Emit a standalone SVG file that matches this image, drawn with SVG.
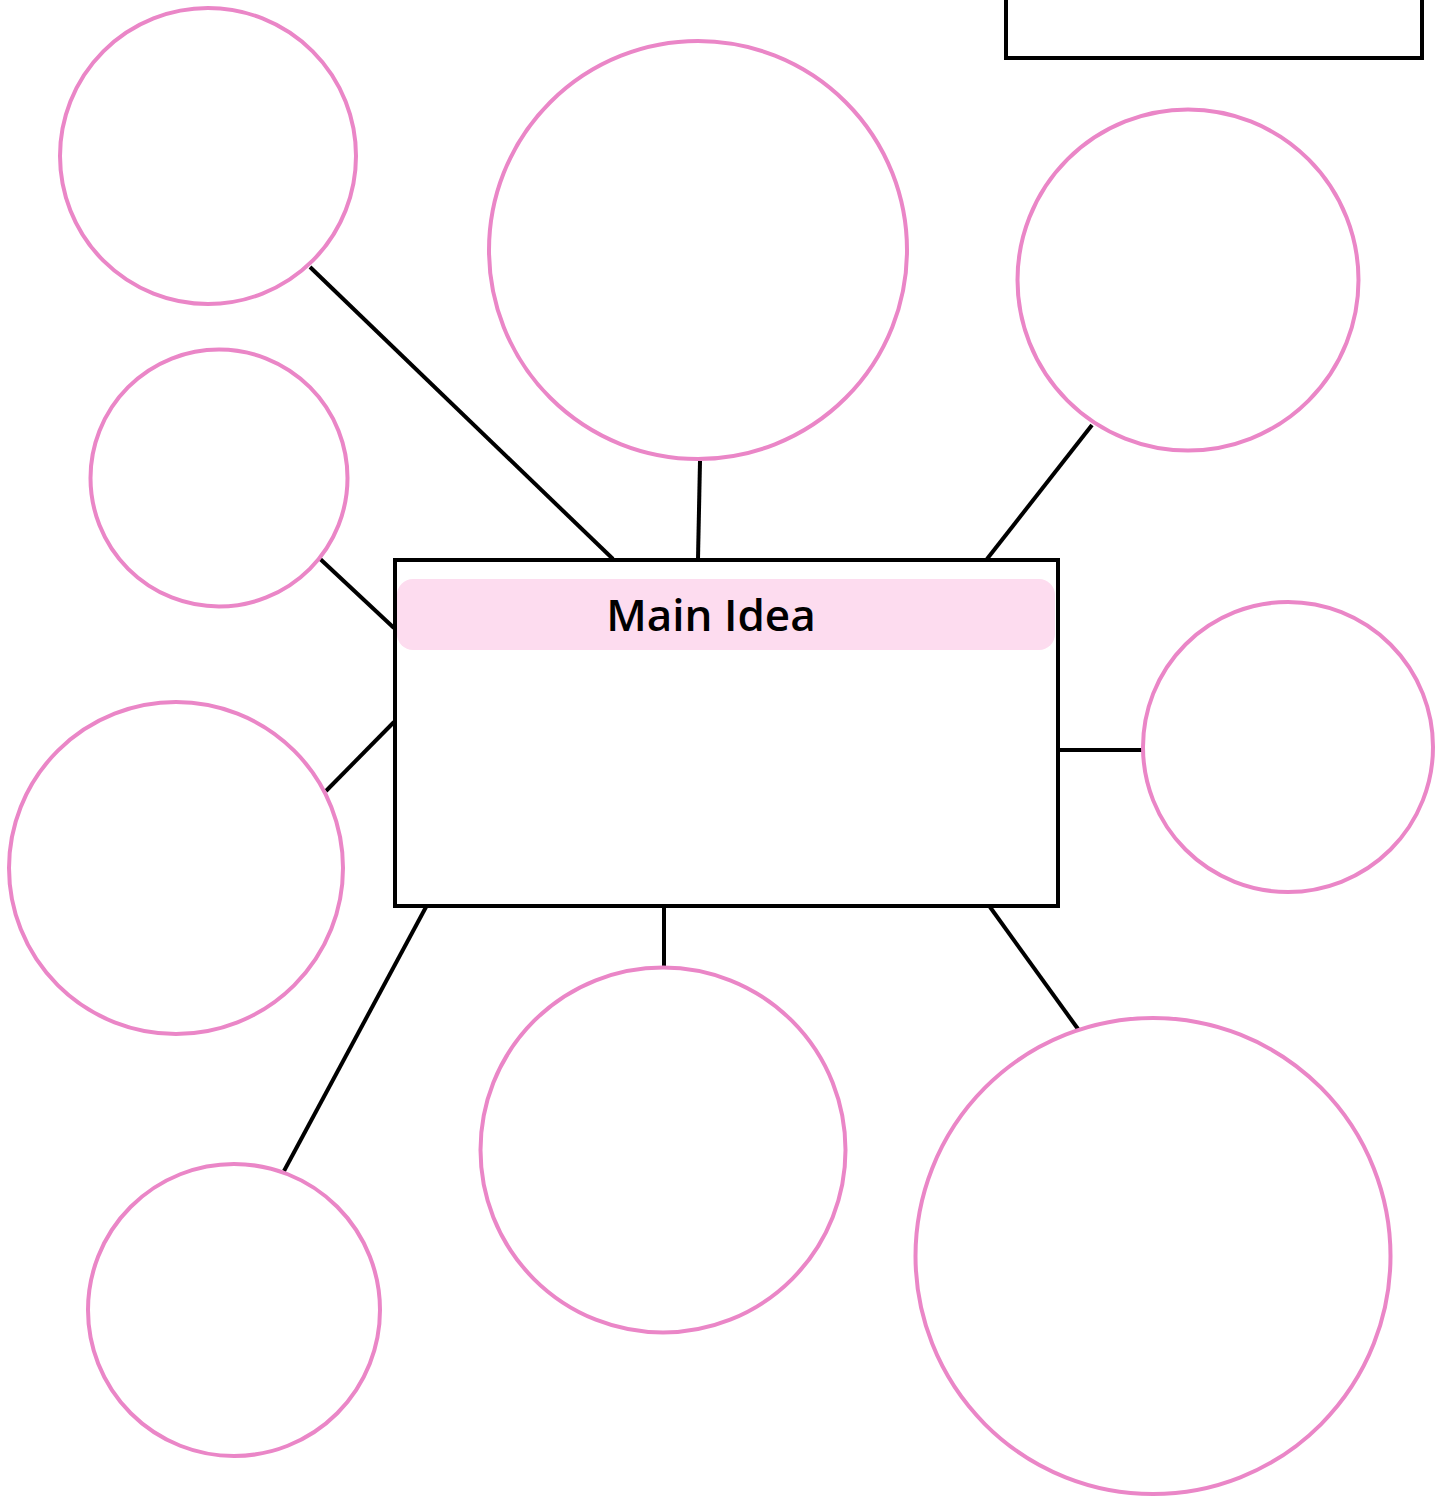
<svg xmlns="http://www.w3.org/2000/svg" width="1449" height="1496" viewBox="0 0 1449 1496">
<style>
.bubble{fill:#ffffff;stroke:#ea86c7;stroke-width:4}
.box{fill:#ffffff;stroke:#000000;stroke-width:4}
.link{stroke:#000000;stroke-width:4;fill:none}
.title{font-family:"Comic Sans MS","Open Sans",sans-serif;font-size:44px;font-weight:600;fill:#000000}
</style>
<rect width="1449" height="1496" fill="#ffffff"/>
<g id="connectors">
<line class="link" x1="310" y1="267" x2="613" y2="559"/>
<line class="link" x1="700" y1="461" x2="698" y2="559"/>
<line class="link" x1="1092" y1="425" x2="987" y2="559"/>
<line class="link" x1="317" y1="556" x2="394" y2="628"/>
<line class="link" x1="394" y1="722" x2="326" y2="791"/>
<line class="link" x1="1060" y1="750" x2="1142" y2="750"/>
<line class="link" x1="426" y1="907" x2="284" y2="1171"/>
<line class="link" x1="664" y1="907" x2="664" y2="966"/>
<line class="link" x1="990" y1="907" x2="1078" y2="1029"/>
</g>
<g id="note"><rect class="box" x="1006" y="-10" width="416" height="68"/></g>
<g id="main">
<rect class="box" x="395" y="560" width="663" height="346"/>
<rect x="397" y="579" width="658" height="71" rx="16" fill="#fddcef"/>
<text class="title" x="711" y="631" text-anchor="middle">Main Idea</text>
</g>
<g id="c1"><circle class="bubble" cx="208" cy="156" r="148"/></g>
<g id="c2"><circle class="bubble" cx="698" cy="250" r="209"/></g>
<g id="c3"><circle class="bubble" cx="1188" cy="280" r="170.5"/></g>
<g id="c4"><circle class="bubble" cx="219" cy="478" r="128.5"/></g>
<g id="c5"><circle class="bubble" cx="1288" cy="747" r="145"/></g>
<g id="c6"><ellipse class="bubble" cx="176" cy="868" rx="167" ry="166"/></g>
<g id="c7"><circle class="bubble" cx="663" cy="1150" r="182.5"/></g>
<g id="c8"><circle class="bubble" cx="234" cy="1310" r="146"/></g>
<g id="c9"><ellipse class="bubble" cx="1153" cy="1256" rx="237.5" ry="238"/></g>
</svg>
